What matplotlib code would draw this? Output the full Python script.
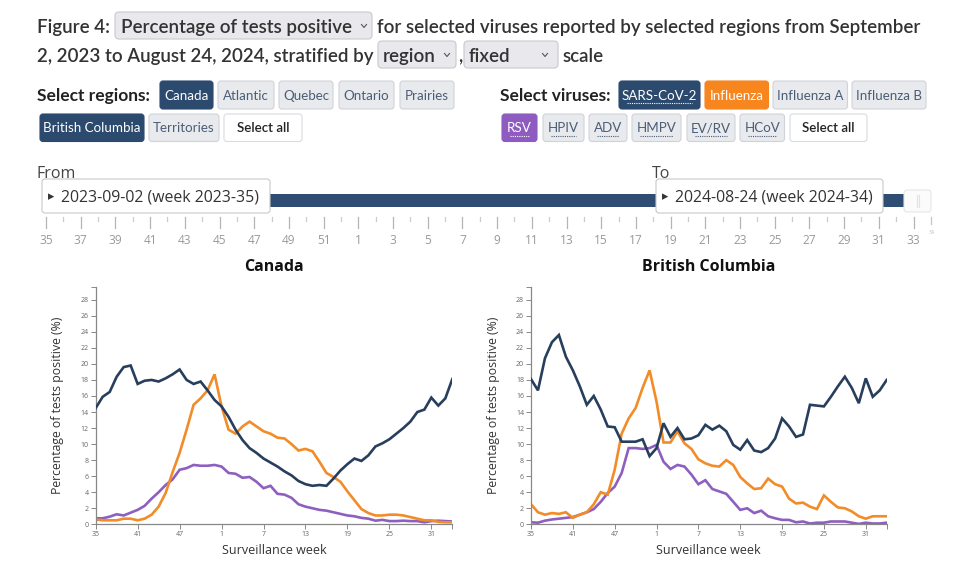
import matplotlib
matplotlib.use("Agg")
import matplotlib.pyplot as plt
from matplotlib.patches import FancyBboxPatch, Rectangle

# surveillance weeks 2023-35 .. 2024-34
weeks = list(range(35, 53)) + list(range(1, 35))
xtick_weeks = [35, 41, 47, 1, 7, 13, 19, 25, 31]

canada_sars = [14.5, 15.9, 16.5, 18.4, 19.6, 19.8, 17.5, 17.9, 18.0, 17.8,
               18.2, 18.7, 19.3, 18.0, 17.5, 17.8, 16.7, 15.5, 14.7, 13.4,
               11.8, 10.5, 9.5, 8.9, 8.2, 7.7, 7.2, 6.6, 6.1, 5.4,
               5.0, 4.8, 4.9, 4.8, 5.7, 6.7, 7.5, 8.2, 7.9, 8.6,
               9.7, 10.1, 10.6, 11.3, 12.0, 12.8, 14.0, 14.3, 15.8, 14.8,
               15.7, 18.1]
canada_flu = [0.6, 0.5, 0.5, 0.5, 0.7, 0.7, 0.5, 0.7, 1.2, 2.2,
              3.9, 6.5, 8.9, 11.8, 14.9, 15.7, 16.7, 18.7, 14.7, 11.8,
              11.3, 12.2, 12.8, 12.2, 11.6, 11.3, 10.8, 10.7, 10.0, 9.2,
              9.4, 9.1, 7.8, 6.4, 5.9, 5.3, 4.1, 3.0, 1.9, 1.4,
              1.1, 1.1, 1.2, 1.2, 1.1, 0.9, 0.7, 0.5, 0.5, 0.3,
              0.25, 0.25]
canada_rsv = [0.75, 0.75, 0.95, 1.25, 1.1, 1.45, 1.8, 2.3, 3.2, 4.0,
              4.9, 5.6, 6.8, 7.0, 7.4, 7.3, 7.3, 7.4, 7.2, 6.4,
              6.3, 5.8, 5.9, 5.3, 4.5, 4.8, 3.8, 3.7, 3.3, 2.5,
              2.2, 2.0, 1.8, 1.7, 1.5, 1.3, 1.1, 1.0, 0.8, 0.7,
              0.45, 0.55, 0.4, 0.4, 0.45, 0.4, 0.4, 0.25, 0.4, 0.45,
              0.4, 0.35]

bc_sars = [18.1, 16.7, 20.7, 22.7, 23.6, 20.9, 19.2, 17.2, 14.9, 16.0,
           14.3, 12.2, 12.1, 10.3, 10.3, 10.3, 10.6, 8.5, 9.5, 12.6,
           10.9, 12.0, 10.6, 10.7, 11.1, 12.4, 11.8, 12.3, 11.6, 9.9,
           9.3, 10.5, 9.2, 9.0, 9.5, 10.7, 13.2, 12.2, 10.9, 11.2,
           14.9, 14.8, 14.7, 15.9, 17.2, 18.4, 17.0, 15.1, 18.2, 15.9,
           16.7, 18.0]
bc_flu = [2.5, 1.5, 1.2, 1.4, 1.3, 1.5, 0.8, 1.2, 1.5, 2.5,
          4.0, 3.7, 6.8, 11.3, 13.2, 14.5, 17.0, 19.2, 15.3, 10.2,
          10.2, 11.6, 10.1, 9.4, 8.1, 7.6, 7.3, 7.2, 8.0, 7.4,
          5.9, 5.1, 4.4, 4.5, 5.7, 5.0, 4.7, 3.2, 2.6, 2.7,
          2.2, 1.9, 3.6, 2.8, 2.1, 2.0, 1.6, 1.0, 0.7, 1.0,
          1.0, 1.0]
bc_rsv = [0.25, 0.2, 0.45, 0.6, 0.7, 0.8, 0.9, 1.2, 1.5, 1.9,
          2.8, 3.9, 4.7, 6.4, 9.5, 9.5, 9.4, 9.5, 9.9, 7.8,
          6.9, 7.4, 7.2, 6.2, 5.0, 5.5, 4.4, 4.1, 3.8, 2.8,
          1.8, 2.0, 1.4, 1.7, 1.0, 0.75, 0.55, 0.55, 0.25, 0.35,
          0.1, 0.2, 0.2, 0.35, 0.35, 0.35, 0.2, 0.05, 0.2, 0.1,
          0.1, 0.2]

region_buttons = [("Canada", True), ("Atlantic", False), ("Quebec", False),
                  ("Ontario", False), ("Prairies", False),
                  ("British Columbia", True), ("Territories", False)]
virus_buttons = ["SARS-CoV-2", "Influenza", "Influenza A", "Influenza B",
                 "RSV", "HPIV", "ADV", "HMPV", "EV/RV", "HCoV"]

NAVY = "#2c4a6e"
ORANGE = "#f7861f"
PURPLE = "#8e5cc0"
LINE_NAVY = "#273f5c"
LINE_ORANGE = "#f28c28"
LINE_PURPLE = "#8d5fbf"
BTN_GRAY = "#e8eaee"
BTN_EDGE = "#cfd3d9"
BTN_TEXT = "#4b5d75"

LATO = ["Lato", "DejaVu Sans"]
OPEN = ["Open Sans", "DejaVu Sans"]

fig = plt.figure(figsize=(9.6, 5.71), dpi=100)
ui = fig.add_axes([0, 0, 1, 1])
ui.set_xlim(0, 960)
ui.set_ylim(571, 0)
ui.axis("off")


def box(x0, x1, y0, y1, face, edge, r=3, z=1, lw=0.8):
    ui.add_patch(FancyBboxPatch((x0, y0), x1 - x0, y1 - y0,
                                boxstyle=f"round,pad=0,rounding_size={r}",
                                fc=face, ec=edge, lw=lw, zorder=z))


def chevron(x, y):
    ui.plot([x - 2.5, x, x + 2.5], [y - 1.5, y + 1.5, y - 1.5], color="#555", lw=0.8, zorder=3)


def button(x0, x1, y0, y1, label, face, edge, tc, underline=False, weight="normal"):
    box(x0, x1, y0, y1, face, edge)
    xc = (x0 + x1) / 2
    ui.text(xc, (y0 + y1) / 2 + 0.5, label, ha="center", va="center", fontsize=9.6,
            family=LATO, color=tc, weight=weight, zorder=3)
    if underline:
        ui.plot([x0 + 8, x1 - 8], [y1 - 6, y1 - 6], color=tc, lw=0.8, ls=(0, (1, 1)), zorder=3)


# ---- title ----
TITLE = dict(fontsize=13.5, family=LATO, weight="semibold", color="#333333", va="baseline")
ui.text(37, 33, "Figure 4:", **TITLE)
box(115, 372, 12, 39, "#e9e9ed", "#c9c9ce", r=4)
ui.text(121, 33, "Percentage of tests positive", zorder=3, **TITLE)
chevron(364, 26)
ui.text(377, 33, "for selected viruses reported by selected regions from September", **TITLE)
ui.text(37, 62, "2, 2023 to August 24, 2024, stratified by", **TITLE)
box(378, 456, 41, 68, "#e9e9ed", "#c9c9ce", r=4)
ui.text(383, 62, "region", zorder=3, **TITLE)
chevron(447, 55)
ui.text(458, 62, ",", **TITLE)
box(464, 558, 41, 68, "#e9e9ed", "#c9c9ce", r=4)
ui.text(469, 62, "fixed", zorder=3, **TITLE)
chevron(545, 55)
ui.text(563, 62, "scale", **TITLE)

# ---- region selector ----
ui.text(37, 101, "Select regions:", fontsize=12.5, family=LATO, weight="bold",
        color="#222222", va="baseline")
region_pos = [(160, 213, 81, 109), (218, 274, 81, 109), (279, 333, 81, 109),
              (339, 394, 81, 109), (400, 454, 81, 109),
              (40, 144, 114, 141.5), (149, 219, 114, 141.5)]
for (label, active), (x0, x1, y0, y1) in zip(region_buttons, region_pos):
    if active:
        button(x0, x1, y0, y1, label, NAVY, NAVY, "white")
    else:
        button(x0, x1, y0, y1, label, BTN_GRAY, BTN_EDGE, BTN_TEXT)
button(224, 302, 114, 141.5, "Select all", "white", "#d8dbe0", "#222222", weight="semibold")

# ---- virus selector ----
ui.text(500, 101, "Select viruses:", fontsize=12.5, family=LATO, weight="bold",
        color="#222222", va="baseline")
virus_pos = [(619, 700, 81, 109), (705, 768.5, 81, 109), (773, 847.5, 81, 109),
             (852, 926, 81, 109),
             (502, 537, 114, 141.5), (543, 584, 114, 141.5), (589, 627, 114, 141.5),
             (632, 681, 114, 141.5), (687, 735, 114, 141.5), (740, 784.5, 114, 141.5)]
virus_face = {"SARS-CoV-2": NAVY, "Influenza": ORANGE, "RSV": PURPLE}
for label, (x0, x1, y0, y1) in zip(virus_buttons, virus_pos):
    ul = label not in ("Influenza", "Influenza A", "Influenza B")
    if label in virus_face:
        button(x0, x1, y0, y1, label, virus_face[label], virus_face[label], "white", underline=ul)
    else:
        button(x0, x1, y0, y1, label, BTN_GRAY, BTN_EDGE, BTN_TEXT, underline=ul)
button(790, 867, 114, 141.5, "Select all", "white", "#d8dbe0", "#222222", weight="semibold")

# ---- week slider ----
ui.text(37, 178, "From", fontsize=11.5, family=OPEN, color="#444444", va="baseline")
ui.text(652, 178, "To", fontsize=11.5, family=OPEN, color="#444444", va="baseline")
ui.add_patch(Rectangle((46, 194), 858, 13, fc="#2f4d72", ec="none", zorder=1))
box(42, 270, 179, 213, "white", "#c8c8c8", r=3, z=2)
box(656, 883, 179, 213, "white", "#c8c8c8", r=3, z=2)
box(904, 931, 190, 212, "#fbfbfb", "#e6e6e6", r=3, z=2)
ui.plot([916.5, 916.5], [195, 207], color="#e2e2e2", lw=0.8, zorder=3)
ui.plot([918.5, 918.5], [195, 207], color="#e2e2e2", lw=0.8, zorder=3)
for x, txt in [(48, "2023-09-02 (week 2023-35)"), (662, "2024-08-24 (week 2024-34)")]:
    ui.text(x, 196.5, "\u25B8", fontsize=9, family=["DejaVu Sans"], color="#333333",
            va="center", zorder=3)
    ui.text(x + 13, 197, txt, fontsize=11.4, family=OPEN, color="#333333",
            va="center", zorder=3)
step = 17.35
for i, wk in enumerate(weeks):
    x = 46 + step * i
    if i % 2 == 0:
        ui.plot([x, x], [217, 228], color="#b5b5b5", lw=0.9)
        ui.text(x, 241, str(wk), fontsize=8.6, family=OPEN, color="#9a9a9a",
                ha="center", va="center")
    elif i == len(weeks) - 1:
        ui.plot([x, x], [217, 224], color="#c5c5c5", lw=0.9)
        ui.text(x + 1, 232, str(wk), fontsize=3.8, family=OPEN, color="#bbbbbb",
                ha="center", va="center")
    else:
        ui.plot([x, x], [217, 221], color="#cccccc", lw=0.9)

# ---- charts ----
panels = [("Canada", canada_sars, canada_flu, canada_rsv, 95.7, 452.3),
          ("British Columbia", bc_sars, bc_flu, bc_rsv, 531.0, 886.7)]
xs = list(range(len(weeks)))
for title, sars, flu, rsv, px0, px1 in panels:
    ax = fig.add_axes([px0 / 960, 1 - 524.3 / 571, (px1 - px0) / 960, 237 / 571])
    ax.patch.set_alpha(0)
    ax.plot(xs, sars, color=LINE_NAVY, lw=1.9, solid_joinstyle="miter", zorder=3)
    ax.plot(xs, flu, color=LINE_ORANGE, lw=1.9, solid_joinstyle="miter", zorder=2)
    ax.plot(xs, rsv, color=LINE_PURPLE, lw=1.9, solid_joinstyle="miter", zorder=1)
    ax.set_xlim(0, len(weeks) - 1)
    ax.set_ylim(0, 29.55)
    ax.set_yticks(range(0, 29, 2))
    ax.set_yticks([29.55], minor=True)
    tick_idx = [weeks.index(w) for w in xtick_weeks] + [len(weeks) - 1]
    ax.set_xticks(tick_idx)
    ax.set_xticklabels([str(w) for w in xtick_weeks] + [""])
    for s in ("top", "right"):
        ax.spines[s].set_visible(False)
    for s in ("left", "bottom"):
        ax.spines[s].set_color("#888888")
        ax.spines[s].set_linewidth(0.9)
    ax.tick_params(axis="both", which="both", length=3.5, width=0.7, color="#888888",
                   labelsize=5, labelcolor="#666666", pad=1.5)
    for lab in ax.get_xticklabels() + ax.get_yticklabels():
        lab.set_family(OPEN)
    cx = (px0 + px1) / 2
    ui.text(cx, 267, title, fontsize=11.5, family=OPEN, weight="bold", color="#111111",
            ha="center", va="center")
    ui.text(cx, 550, "Surveillance week", fontsize=9, family=OPEN, color="#333333",
            ha="center", va="center")
    ui.text(px0 - 38, 405, "Percentage of tests positive (%)", fontsize=8.8, family=OPEN,
            color="#333333", ha="center", va="center", rotation=90)

fig.savefig("out.png", dpi=100)
